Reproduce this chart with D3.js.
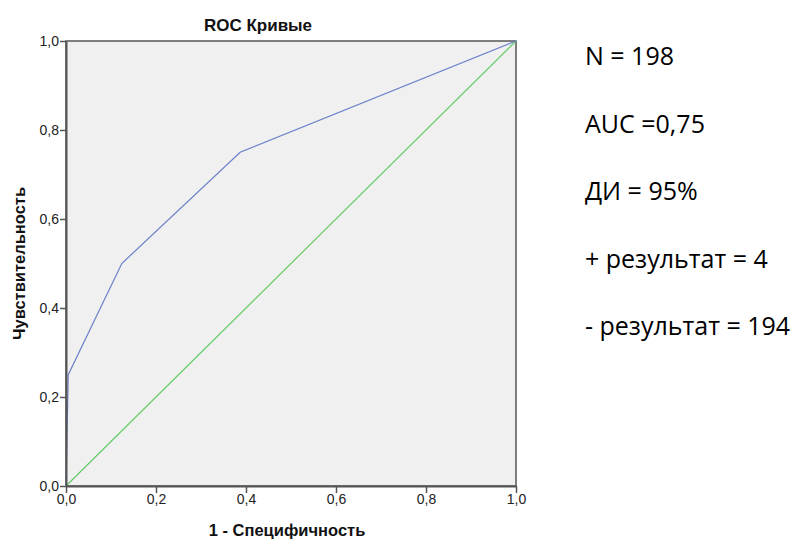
<!DOCTYPE html>
<html>
<head>
<meta charset="utf-8">
<script src="https://cdn.jsdelivr.net/npm/d3@7"></script>
<style>
body { margin: 0; background: #fff; }
</style>
</head>
<body>
<svg width="796" height="539"></svg>
<script>
// ROC points (1 - specificity, sensitivity)
var fpr = [0, 0.005, 0.124, 0.387, 1]
var tpr = [0, 0.25, 0.5, 0.75, 1]
var refFpr = [0, 1]
var refTpr = [0, 1]
var ticks = [0, 0.2, 0.4, 0.6, 0.8, 1]
var notes = ["N = 198", "AUC =0,75", "ДИ = 95%", "+ результат = 4", "- результат = 194"]

var svg = d3.select("svg"),
	plotL = 66, plotR = 516, plotT = 41, plotB = 486

var x = d3.scaleLinear().domain([0, 1]).range([plotL, plotR])
var y = d3.scaleLinear().domain([0, 1]).range([plotB, plotT])
var fmt = function(d){ return d3.format(".1f")(d).replace(".", ",") }
var arial = "Arial, 'Liberation Sans', sans-serif"

svg.append("rect")
	.attr("x", plotL).attr("y", plotT)
	.attr("width", plotR - plotL).attr("height", plotB - plotT)
	.style("fill", "#f0f0f0")
	.style("stroke", "#555").style("stroke-width", 1.5)

var line = d3.line().x(function(d){ return x(d[0]) }).y(function(d){ return y(d[1]) })

svg.append("path")
	.datum(d3.zip(refFpr, refTpr))
	.attr("d", line)
	.style("fill", "none").style("stroke", "#66cc66").style("stroke-width", 1.2)

svg.append("path")
	.datum(d3.zip(fpr, tpr))
	.attr("d", line)
	.style("fill", "none").style("stroke", "#6a7fc9").style("stroke-width", 1.2)

var xAxis = svg.append("g")
	.attr("transform", "translate(0," + plotB + ")")
	.call(d3.axisBottom(x).tickValues(ticks).tickFormat(fmt).tickSize(7).tickSizeOuter(0))
var yAxis = svg.append("g")
	.attr("transform", "translate(" + plotL + ",0)")
	.call(d3.axisLeft(y).tickValues(ticks).tickFormat(fmt).tickSize(6).tickSizeOuter(0))

;[xAxis, yAxis].forEach(function(g){
	g.select(".domain").style("stroke", "#555").style("stroke-width", 2)
	g.selectAll(".tick line").style("stroke", "#555").style("stroke-width", 1.5)
	g.selectAll(".tick text")
		.style("font-family", arial)
		.style("font-size", "14px").style("fill", "#222")
})
xAxis.selectAll(".tick text").attr("y", 18).attr("dy", 0)
yAxis.selectAll(".tick text").attr("x", -7).attr("dy", "0.35em")

svg.append("text")
	.attr("x", 258).attr("y", 31)
	.attr("text-anchor", "middle")
	.style("font-family", arial)
	.style("font-size", "17px").style("font-weight", "bold").style("fill", "#111")
	.text("ROC Кривые")

svg.append("text")
	.attr("x", 287).attr("y", 536)
	.attr("text-anchor", "middle")
	.style("font-family", arial)
	.style("font-size", "16.5px").style("font-weight", "bold").style("fill", "#111")
	.text("1 - Специфичность")

svg.append("text")
	.attr("transform", "translate(25," + (plotT + plotB) / 2 + ") rotate(-90)")
	.attr("text-anchor", "middle")
	.style("font-family", arial)
	.style("font-size", "16.5px").style("font-weight", "bold").style("fill", "#111")
	.text("Чувствительность")

svg.selectAll("text.note")
	.data(notes).enter().append("text")
	.attr("class", "note")
	.attr("x", 585)
	.attr("y", function(d, i){ return 65 + i * 67.5 })
	.style("font-family", "'Open Sans', sans-serif")
	.style("font-size", "25px").style("fill", "#000")
	.text(function(d){ return d })
</script>
</body>
</html>
